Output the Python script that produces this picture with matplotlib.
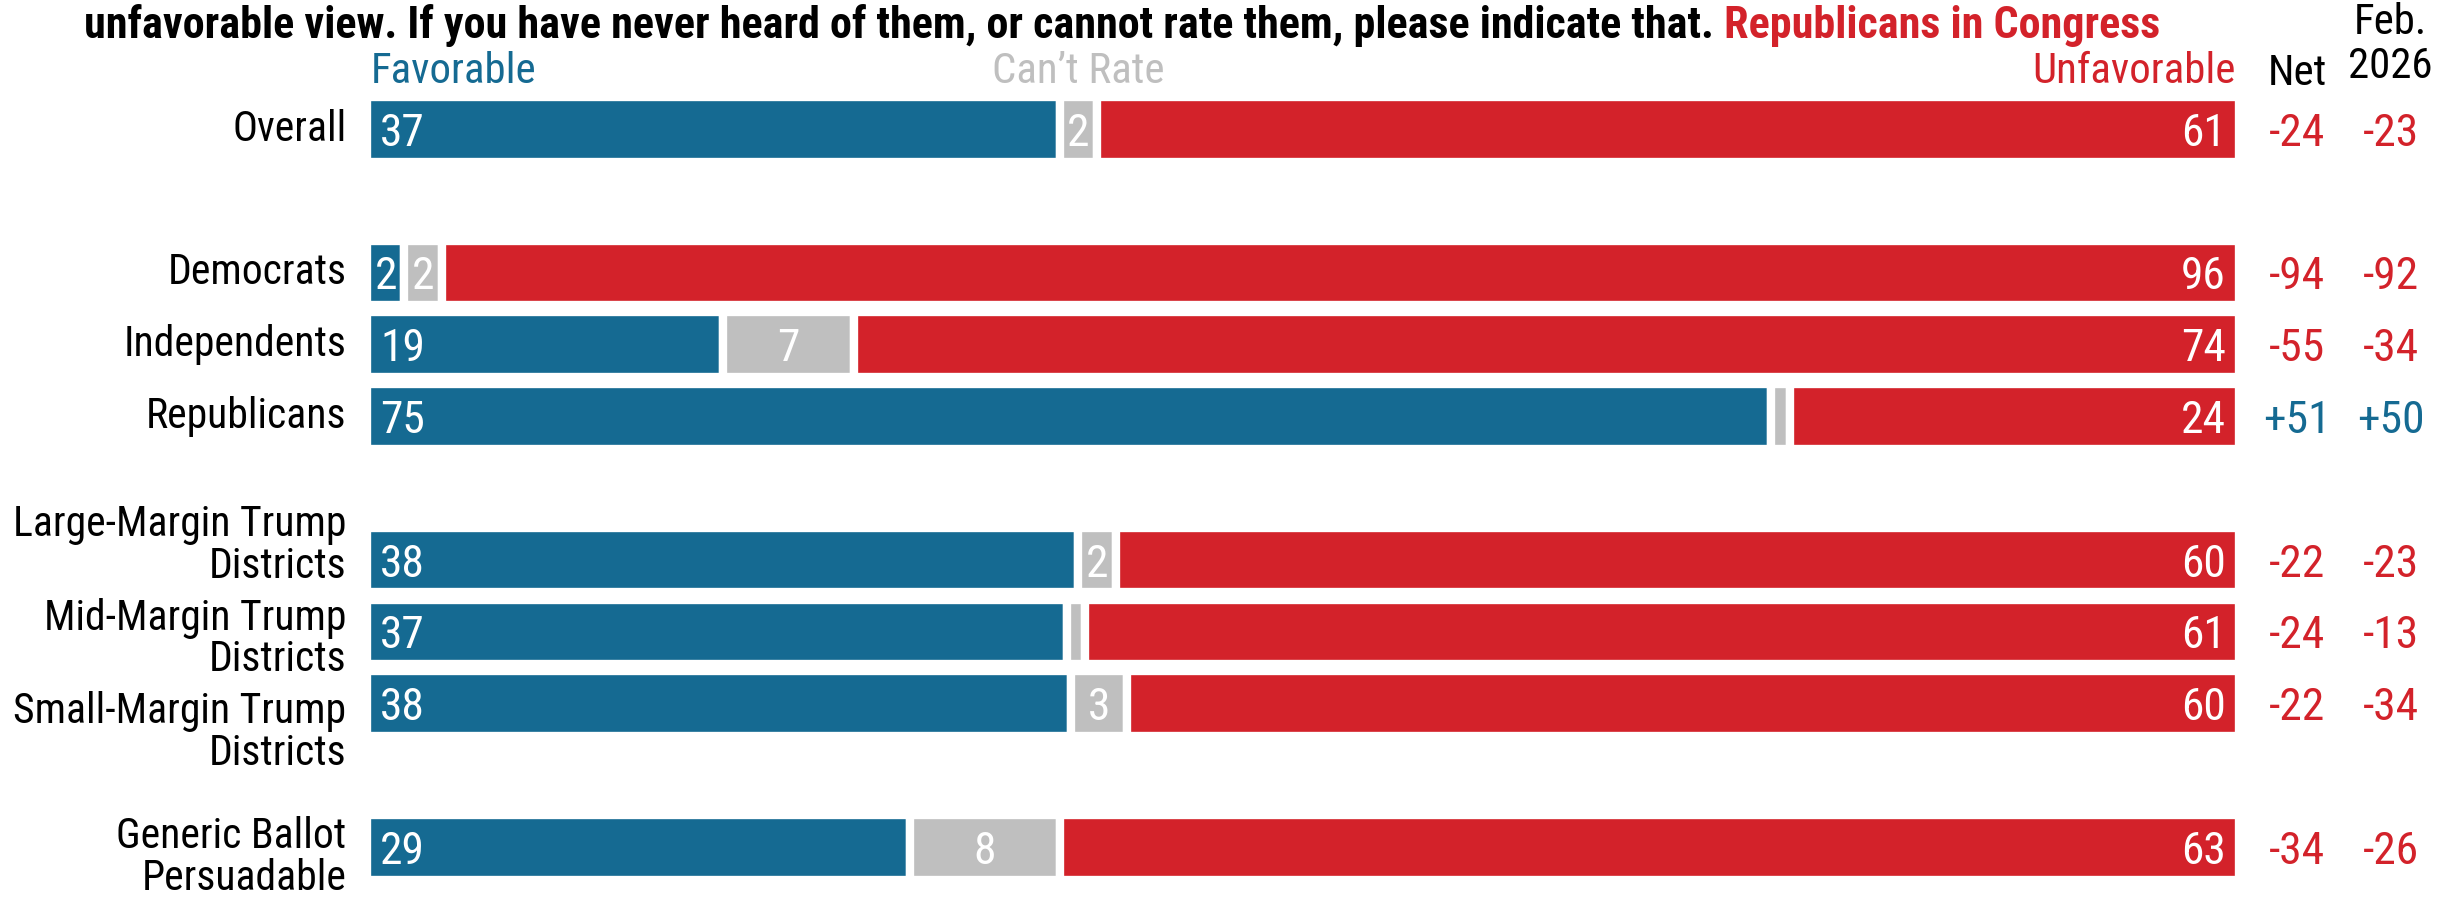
import matplotlib.pyplot as plt
from matplotlib import font_manager
import numpy as np

# pick a condensed face if one is installed
fonts = font_manager.fontManager.ttflist
names = {f.name for f in fonts}
stretch = 'normal'
if 'Liberation Sans Narrow' in names:
    family = 'Liberation Sans Narrow'
elif 'Roboto Condensed' in names:
    family = 'Roboto Condensed'
elif any(f.name == 'DejaVu Sans' and f.stretch == 'condensed' for f in fonts):
    family, stretch = 'DejaVu Sans', 'condensed'
else:
    family = 'DejaVu Sans'
plt.rcParams['font.family'] = [family, 'DejaVu Sans']
plt.rcParams['font.stretch'] = stretch

# data
groups = ["Overall", "Democrats", "Independents", "Republicans",
          "Large-Margin Trump\nDistricts", "Mid-Margin Trump\nDistricts",
          "Small-Margin Trump\nDistricts", "Generic Ballot\nPersuadable"]
favorable = [37, 2, 19, 75, 38, 37, 38, 29]
cant_rate = [2, 2, 7, 1, 2, 1, 3, 8]
unfavorable = [61, 96, 74, 24, 60, 61, 60, 63]
net = [-24, -94, -55, 51, -22, -24, -22, -34]
feb_2026 = [-23, -92, -34, 50, -23, -13, -34, -26]

# layout
row_pos = [0, 2, 3, 4, 6, 7, 8, 10]
label_dy = [0, 0, 0, 0, -0.2, 0.1, 0.4, 0.14]

BLUE = '#156A92'
RED = '#D3222A'
GRAY = '#BFBFBF'

fav = np.array(favorable, float)
cant = np.array(cant_rate, float)
unf = np.array(unfavorable, float)
total = fav + cant + unf
fav_w = fav / total * 100
cant_w = cant / total * 100
unf_w = unf / total * 100

fig = plt.figure(figsize=(24.43, 8.99), dpi=100)
ax = fig.add_axes([0, 0, 1, 1])
ax.set_xlim(-19.6, 110.9)
ax.set_ylim(10.72, -1.80)
ax.axis('off')
renderer = fig.canvas.get_renderer()


def fit_size(s, target_px, base=30, **kw):
    # font size that makes text s about target_px wide
    t = ax.text(0, 0, s, fontsize=base, **kw)
    w = t.get_window_extent(renderer).width
    t.remove()
    return base * target_px / w


ax.barh(row_pos, fav_w, height=0.9, color=BLUE, edgecolor='white', linewidth=6)
ax.barh(row_pos, cant_w, left=fav_w, height=0.9, color=GRAY, edgecolor='white', linewidth=6)
ax.barh(row_pos, unf_w, left=fav_w + cant_w, height=0.9, color=RED, edgecolor='white', linewidth=6)

label_size = min(fit_size("Small-Margin Trump", 333), 34)
num_size = min(fit_size("37", 45), 36)
head_size = min(fit_size("Favorable", 166), 34)

for i, y in enumerate(row_pos):
    ax.text(-1.1, y + label_dy[i], groups[i], ha='right', va='center',
            fontsize=label_size, linespacing=1.02, color='black')
    # favorable
    if fav_w[i] < 5:
        ax.text(fav_w[i] / 2, y, str(favorable[i]), ha='center', va='center_baseline',
                fontsize=num_size, color='white')
    else:
        ax.text(0.7, y, str(favorable[i]), ha='left', va='center_baseline',
                fontsize=num_size, color='white')
    # can't rate
    if cant_rate[i] > 1:
        ax.text(fav_w[i] + cant_w[i] / 2, y, str(cant_rate[i]), ha='center',
                va='center_baseline', fontsize=num_size, color='white')
    # unfavorable
    ax.text(99.3, y, str(unfavorable[i]), ha='right', va='center_baseline',
            fontsize=num_size, color='white')
    # net and february
    ax.text(103.1, y, f"{net[i]:+d}", ha='center', va='center_baseline',
            fontsize=num_size, color=BLUE if net[i] > 0 else RED)
    ax.text(108.1, y, f"{feb_2026[i]:+d}", ha='center', va='center_baseline',
            fontsize=num_size, color=BLUE if feb_2026[i] > 0 else RED)

# column headers
ax.text(0.2, -0.65, "Favorable", ha='left', va='baseline', fontsize=head_size, color=BLUE)
ax.text(fav_w[0] + cant_w[0] / 2, -0.65, "Can\u2019t Rate", ha='center', va='baseline',
        fontsize=head_size, color=GRAY)
ax.text(99.8, -0.65, "Unfavorable", ha='right', va='baseline', fontsize=head_size, color=RED)
ax.text(103.1, -0.62, "Net", ha='center', va='baseline', fontsize=head_size, color='black')
ax.text(108.1, -1.32, "Feb.", ha='center', va='baseline', fontsize=head_size, color='black')
ax.text(108.1, -0.72, "2026", ha='center', va='baseline', fontsize=head_size, color='black')

# question text
q_black = "unfavorable view. If you have never heard of them, or cannot rate them, please indicate that."
q_red = " Republicans in Congress"
title_size = fit_size(q_black + q_red, 2082, fontweight='bold')
t1 = ax.text(-15.1, -1.27, q_black, ha='left', va='baseline', fontsize=title_size,
             fontweight='bold', color='black')
ax.annotate(q_red, xy=(1, 0), xycoords=t1, ha='left', va='bottom',
            fontsize=title_size, fontweight='bold', color=RED)

fig.savefig('out.png', dpi=100)
